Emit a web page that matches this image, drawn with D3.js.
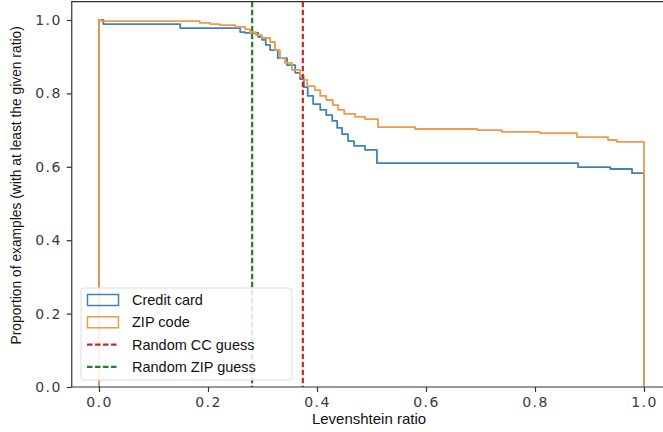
<!DOCTYPE html>
<html>
<head>
<meta charset="utf-8">
<script src="https://cdn.jsdelivr.net/npm/d3@7"></script>
<style>
  html, body { margin: 0; padding: 0; background: #fff; overflow: hidden; }
  svg { display: block; }
  text { font-family: "Liberation Sans", Arial, sans-serif; }
  .tick text { font-family: "DejaVu Sans", sans-serif; fill: #3a3a3a; }
</style>
</head>
<body>
<svg id="chart" width="663" height="432"></svg>
<script>
// Survival curves: share of examples whose Levenshtein ratio is at least x.
// Each pair is [ratio where the step starts, proportion from there on].
const creditCardSteps = [
  [0.000, 1.000], [0.008, 0.989], [0.149, 0.978], [0.259, 0.967], [0.268, 0.965],
  [0.292, 0.954], [0.299, 0.946], [0.306, 0.932], [0.314, 0.918], [0.328, 0.896],
  [0.345, 0.877], [0.360, 0.856], [0.369, 0.839], [0.376, 0.817], [0.383, 0.793],
  [0.393, 0.771], [0.406, 0.755], [0.417, 0.741], [0.428, 0.725], [0.437, 0.706],
  [0.446, 0.689], [0.457, 0.670], [0.468, 0.657], [0.488, 0.646], [0.510, 0.610],
  [0.879, 0.599], [0.938, 0.594], [0.978, 0.583]
];
const zipCodeSteps = [
  [0.000, 1.000], [0.004, 0.997], [0.185, 0.992], [0.204, 0.989], [0.222, 0.986],
  [0.250, 0.981], [0.268, 0.975], [0.277, 0.967], [0.288, 0.959], [0.299, 0.951],
  [0.314, 0.940], [0.323, 0.918], [0.332, 0.896], [0.341, 0.883], [0.354, 0.864],
  [0.369, 0.847], [0.376, 0.837], [0.382, 0.820], [0.396, 0.809], [0.406, 0.793],
  [0.417, 0.782], [0.429, 0.768], [0.439, 0.755], [0.450, 0.744], [0.470, 0.736],
  [0.488, 0.730], [0.512, 0.708], [0.580, 0.703], [0.694, 0.700], [0.739, 0.695],
  [0.809, 0.692], [0.877, 0.681], [0.934, 0.673], [0.950, 0.668]
];
const randomCCGuess = 0.374;
const randomZIPGuess = 0.281;
const xTicks = [0.0, 0.2, 0.4, 0.6, 0.8, 1.0];
const yTicks = [0.0, 0.2, 0.4, 0.6, 0.8, 1.0];
const legendLabels = ["Credit card", "ZIP code", "Random CC guess", "Random ZIP guess"];

const colors = {
  cc: "#3f82b8",
  zip: "#ee9a48",
  ccGuess: "#bd2a2e",
  zipGuess: "#23802a",
  axis: "#333"
};

const svg = d3.select("#chart");
const x = d3.scaleLinear().domain([-0.05, 1.05]).range([71.75, 671.25]);
const y = d3.scaleLinear().domain([0, 1.05]).range([387, 1.65]);

// Plot frame
const frameTop = y(1.05), frameBottom = y(0), frameLeft = x(-0.05), frameRight = x(1.05);

// Step outlines (histogram "step" style), closed down to zero at both ends
function outline(steps) {
  return [[0, 0], ...steps, [1, steps[steps.length - 1][1]], [1, 0]];
}
const line = d3.line()
  .x(d => x(d[0]))
  .y(d => y(d[1]))
  .curve(d3.curveStepAfter);

svg.append("path")
  .attr("d", line(outline(creditCardSteps)))
  .attr("fill", "none")
  .attr("stroke", colors.cc)
  .attr("stroke-width", 1.8)
  .attr("stroke-linejoin", "round");

svg.append("path")
  .attr("d", line(outline(zipCodeSteps)))
  .attr("fill", "none")
  .attr("stroke", colors.zip)
  .attr("stroke-width", 1.8)
  .attr("stroke-linejoin", "round");

// Random-guess reference lines
[[randomCCGuess, colors.ccGuess], [randomZIPGuess, colors.zipGuess]].forEach(([v, c]) => {
  svg.append("line")
    .attr("x1", x(v)).attr("x2", x(v))
    .attr("y1", frameTop).attr("y2", frameBottom)
    .attr("stroke", c)
    .attr("stroke-width", 2.2)
    .attr("stroke-dasharray", "5.5,2.5");
});

// Spines (the right one falls outside the canvas)
svg.append("path")
  .attr("d", `M${frameRight},${frameTop}H${frameLeft}V${frameBottom}H${frameRight}`)
  .attr("fill", "none")
  .attr("stroke", colors.axis)
  .attr("stroke-width", 1.2);

// Axes
const xAxis = svg.append("g")
  .attr("transform", `translate(0,${frameBottom})`)
  .call(d3.axisBottom(x).tickValues(xTicks).tickFormat(d3.format(".1f")).tickSize(5).tickPadding(5));
const yAxis = svg.append("g")
  .attr("transform", `translate(${frameLeft},0)`)
  .call(d3.axisLeft(y).tickValues(yTicks).tickFormat(d3.format(".1f")).tickSize(5).tickPadding(5));
[xAxis, yAxis].forEach(g => {
  g.select(".domain").remove();
  g.selectAll(".tick line").attr("stroke", colors.axis).attr("stroke-width", 1.2);
  g.selectAll(".tick text").attr("font-size", 14).attr("letter-spacing", 1.4);
});

// Axis titles
svg.append("text")
  .attr("x", 369).attr("y", 424)
  .attr("text-anchor", "middle")
  .attr("font-size", 15)
  .attr("fill", "#111")
  .text("Levenshtein ratio");
svg.append("text")
  .attr("transform", `translate(21,${(frameTop + frameBottom) / 2 - 9}) rotate(-90)`)
  .attr("text-anchor", "middle")
  .attr("font-size", 13.8)
  .attr("fill", "#111")
  .text("Proportion of examples (with at least the given ratio)");

// Legend
const lg = svg.append("g").attr("transform", "translate(81,288)");
lg.append("rect")
  .attr("width", 211).attr("height", 92)
  .attr("rx", 3)
  .attr("fill", "#fff").attr("fill-opacity", 0.85)
  .attr("stroke", "#ddd");
const legendItems = [
  { label: legendLabels[0], kind: "patch", color: colors.cc },
  { label: legendLabels[1], kind: "patch", color: colors.zip },
  { label: legendLabels[2], kind: "dash", color: colors.ccGuess },
  { label: legendLabels[3], kind: "dash", color: colors.zipGuess }
];
legendItems.forEach((d, i) => {
  const row = lg.append("g").attr("transform", `translate(0,${12 + i * 22.3})`);
  if (d.kind === "patch") {
    row.append("rect")
      .attr("x", 6.5).attr("y", -5.5)
      .attr("width", 31).attr("height", 11)
      .attr("fill", "none")
      .attr("stroke", d.color).attr("stroke-width", 1.5);
  } else {
    row.append("line")
      .attr("x1", 6).attr("x2", 38)
      .attr("stroke", d.color).attr("stroke-width", 2.2)
      .attr("stroke-dasharray", "5.5,2.5");
  }
  row.append("text")
    .attr("x", 51).attr("y", 5)
    .attr("font-size", 14.5)
    .attr("fill", "#111")
    .text(d.label);
});
</script>
</body>
</html>
